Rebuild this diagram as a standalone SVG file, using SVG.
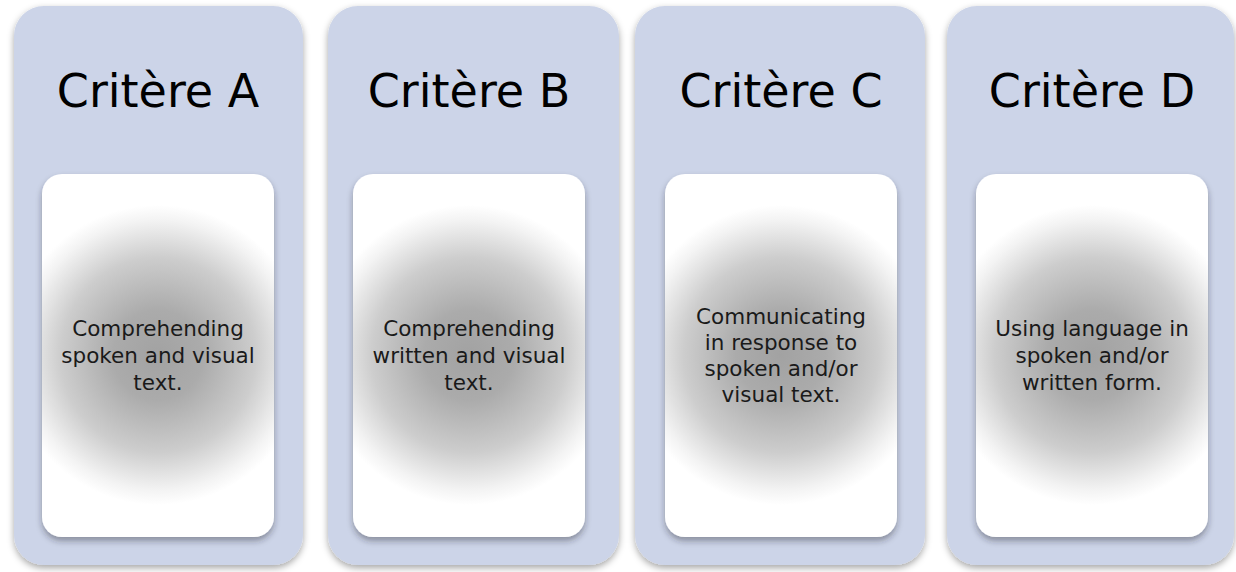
<svg xmlns="http://www.w3.org/2000/svg" width="1236" height="572" viewBox="0 0 1236 572">
  <defs>
    <style>
      .outer { fill: #CCD4E8; filter: url(#shOuter); }
      .inner { fill: url(#rg); filter: url(#shInner); }
      .title { font-family: "DejaVu Sans", "Liberation Sans", sans-serif; font-size: 46px; fill: #000; text-anchor: middle; }
      .body { font-family: "DejaVu Sans", "Liberation Sans", sans-serif; font-size: 21.5px; fill: #1a1a1a; text-anchor: middle; }
    </style>
    <filter id="shOuter" x="-10%" y="-10%" width="120%" height="120%">
      <feDropShadow dx="0" dy="3" stdDeviation="3.5" flood-color="#000" flood-opacity="0.35"/>
    </filter>
    <filter id="shInner" x="-10%" y="-10%" width="120%" height="120%">
      <feDropShadow dx="0" dy="4" stdDeviation="3" flood-color="#223" flood-opacity="0.4"/>
    </filter>
    <radialGradient id="rg" gradientUnits="userSpaceOnUse" cx="158" cy="355" r="150">
      <stop offset="0" stop-color="#a2a2a2"/>
      <stop offset="0.3" stop-color="#ababab"/>
      <stop offset="0.65" stop-color="#cdcdcd"/>
      <stop offset="0.9" stop-color="#f3f3f3"/>
      <stop offset="1" stop-color="#ffffff"/>
    </radialGradient>
  </defs>

  <g id="node-critere-a">
    <rect class="outer" x="14" y="6" width="289" height="559" rx="30"/>
    <rect class="inner" x="42" y="174" width="232" height="363" rx="20"/>
    <text class="title" x="158" y="107">Critère A</text>
    <text class="body" x="158" y="336">Comprehending</text>
    <text class="body" x="158" y="363">spoken and visual</text>
    <text class="body" x="158" y="390">text.</text>
  </g>

  <g id="node-critere-b">
    <rect class="outer" x="328" y="6" width="291" height="559" rx="30"/>
    <g transform="translate(311,0)">
      <rect class="inner" x="42" y="174" width="232" height="363" rx="20"/>
      <text class="title" x="158" y="107">Critère B</text>
      <text class="body" x="158" y="336">Comprehending</text>
      <text class="body" x="158" y="363">written and visual</text>
      <text class="body" x="158" y="390">text.</text>
    </g>
  </g>

  <g id="node-critere-c">
    <rect class="outer" x="635" y="6" width="290" height="559" rx="30"/>
    <g transform="translate(623,0)">
      <rect class="inner" x="42" y="174" width="232" height="363" rx="20"/>
      <text class="title" x="158" y="107">Critère C</text>
      <text class="body" x="158" y="324">Communicating</text>
      <text class="body" x="158" y="350">in response to</text>
      <text class="body" x="158" y="376">spoken and/or</text>
      <text class="body" x="158" y="402">visual text.</text>
    </g>
  </g>

  <g id="node-critere-d">
    <rect class="outer" x="947" y="6" width="287" height="559" rx="30"/>
    <g transform="translate(934,0)">
      <rect class="inner" x="42" y="174" width="232" height="363" rx="20"/>
      <text class="title" x="158" y="107">Critère D</text>
      <text class="body" x="158" y="336">Using language in</text>
      <text class="body" x="158" y="363">spoken and/or</text>
      <text class="body" x="158" y="390">written form.</text>
    </g>
  </g>

  <g id="connectors"/>
</svg>
